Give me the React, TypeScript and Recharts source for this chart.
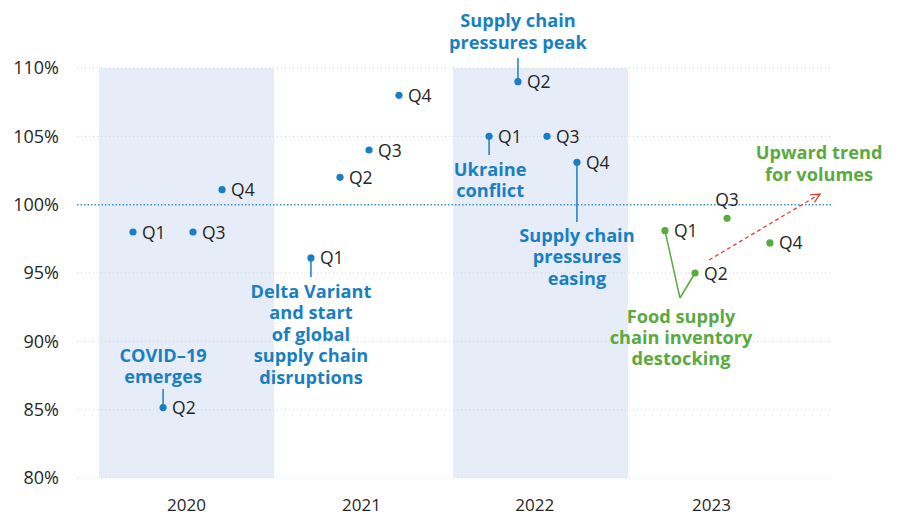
import {
  ComposedChart,
  ReferenceArea,
  ReferenceDot,
  ReferenceLine,
  Scatter,
  XAxis,
  YAxis,
} from "recharts";

// quarterly volume index
const years = ["2020", "2021", "2022", "2023"];
const quarters = ["Q1", "Q2", "Q3", "Q4"];
const yearTicks = [0.5, 1.5, 2.49, 3.5];

const quarterX = [
  [0.194, 0.366, 0.537, 0.703],
  [1.211, 1.377, 1.543, 1.714],
  [2.229, 2.394, 2.56, 2.731],
  [3.234, 3.406, 3.589, 3.834],
];

const volume = [
  [98.0, 85.15, 98.0, 101.1],
  [96.1, 102.0, 104.0, 108.0],
  [105.0, 109.0, 105.0, 103.1],
  [98.1, 95.0, 99.0, 97.2],
];

const yTicks = [80, 85, 90, 95, 100, 105, 110];
const shadedRanges = [
  [0, 1],
  [2.023, 3.023],
];
const labelAboveKeys = ["2023-Q3"];

const BLUE = "#1a7fc2";
const GREEN = "#5aaa3f";
const RED = "#e0412e";
const INK = "#262626";

function buildPoints(yearIdx: number[]) {
  const out: { x: number; y: number; q: string; above: boolean }[] = [];
  yearIdx.forEach((yi) => {
    quarters.forEach((q, qi) => {
      out.push({
        x: quarterX[yi][qi],
        y: volume[yi][qi],
        q,
        above: labelAboveKeys.includes(`${years[yi]}-${q}`),
      });
    });
  });
  return out;
}

const bluePoints = buildPoints([0, 1, 2]);
const greenPoints = buildPoints([3]);

// annotation text blocks: anchor = first baseline, centred
const notes = [
  { x: 0.366, y: 88.49, color: BLUE, lines: ["COVID–19", "emerges"] },
  {
    x: 1.211,
    y: 93.17,
    color: BLUE,
    lines: ["Delta Variant", "and start", "of global", "supply chain", "disruptions"],
  },
  { x: 2.394, y: 112.98, color: BLUE, lines: ["Supply chain", "pressures peak"] },
  { x: 2.235, y: 102.1, color: BLUE, lines: ["Ukraine", "conflict"] },
  { x: 2.731, y: 97.29, color: BLUE, lines: ["Supply chain", "pressures", "easing"] },
  {
    x: 3.326,
    y: 91.37,
    color: GREEN,
    lines: ["Food supply", "chain inventory", "destocking"],
  },
  { x: 4.115, y: 103.32, color: GREEN, lines: ["Upward trend", "for volumes"] },
];

const leaders = [
  { x: 0.366, y1: 86.52, y2: 85.15 },
  { x: 1.211, y1: 96.1, y2: 94.71 },
  { x: 2.394, y1: 110.73, y2: 109.0 },
  { x: 2.229, y1: 105.0, y2: 103.64 },
  { x: 2.731, y1: 103.1, y2: 98.73 },
];

const destockVertex = { x: 3.32, y: 93.17 };
const trendArrow = { x1: 3.486, y1: 95.95, x2: 4.12, y2: 100.78 };

function Dot(props: any) {
  const { cx, cy, payload, fill } = props;
  if (cx == null || cy == null) return null;
  return (
    <g>
      <circle cx={cx} cy={cy} r={3.6} fill={fill} />
      {payload.above ? (
        <text x={cx} y={cy - 12} textAnchor="middle" fontSize={17.5} fill={INK}>
          {payload.q}
        </text>
      ) : (
        <text x={cx + 9} y={cy + 6.5} fontSize={17.5} fill={INK}>
          {payload.q}
        </text>
      )}
    </g>
  );
}

function noteShape(lines: string[], color: string) {
  return (props: any) => (
    <text
      x={props.cx}
      y={props.cy}
      textAnchor="middle"
      fontSize={18.2}
      fontWeight={700}
      fill={color}
    >
      {lines.map((l, i) => (
        <tspan key={i} x={props.cx} dy={i === 0 ? 0 : 21.4}>
          {l}
        </tspan>
      ))}
    </text>
  );
}

function ArrowShape(props: any) {
  const { x1, y1, x2, y2 } = props;
  if (x1 == null) return null;
  const ang = Math.atan2(y2 - y1, x2 - x1);
  const len = 10;
  const a1 = ang + Math.PI - 0.45;
  const a2 = ang + Math.PI + 0.45;
  return (
    <g stroke={RED} strokeWidth={1.3} fill="none">
      <line x1={x1} y1={y1} x2={x2} y2={y2} strokeDasharray="4 3" />
      <polyline
        points={`${x2 + len * Math.cos(a1)},${y2 + len * Math.sin(a1)} ${x2},${y2} ${
          x2 + len * Math.cos(a2)
        },${y2 + len * Math.sin(a2)}`}
      />
    </g>
  );
}

export default function App() {
  return (
    <div
      style={{
        position: "absolute",
        left: 0,
        top: 0,
        width: 900,
        height: 515,
        background: "#fff",
        fontFamily: "'Open Sans', sans-serif",
      }}
    >
      <ComposedChart
        width={900}
        height={515}
        margin={{ top: 68, right: 69, bottom: 0, left: 0 }}
      >
        <XAxis
          type="number"
          dataKey="x"
          domain={[-0.126, 4.183]}
          ticks={yearTicks}
          tickFormatter={(v: number) => years[yearTicks.indexOf(v)] ?? ""}
          axisLine={false}
          tickLine={false}
          tickMargin={15}
          height={37}
          tick={{ fill: INK, fontSize: 17 }}
          allowDataOverflow
        />
        <YAxis
          type="number"
          dataKey="y"
          domain={[80, 110]}
          ticks={yTicks}
          tickFormatter={(v: number) => `${v}%`}
          axisLine={false}
          tickLine={false}
          tickMargin={12}
          width={77}
          tick={{ fill: INK, fontSize: 18 }}
          allowDataOverflow
        />
        {shadedRanges.map(([a, b], i) => (
          <ReferenceArea
            key={i}
            x1={a}
            x2={b}
            y1={80}
            y2={110}
            fill="#e6edf8"
            fillOpacity={1}
            stroke="none"
          />
        ))}
        {yTicks
          .filter((t) => t !== 100)
          .map((t) => (
            <ReferenceLine
              key={t}
              y={t}
              stroke="#c3d2e6"
              strokeDasharray="1 3"
              strokeWidth={1}
            />
          ))}
        <ReferenceLine y={100} stroke="#3b8fd3" strokeDasharray="1.5 2" strokeWidth={1.5} />
        {leaders.map((l, i) => (
          <ReferenceLine
            key={`ld${i}`}
            segment={[
              { x: l.x, y: l.y1 },
              { x: l.x, y: l.y2 },
            ]}
            stroke={BLUE}
            strokeWidth={1.5}
            ifOverflow="visible"
          />
        ))}
        <ReferenceLine
          segment={[
            { x: quarterX[3][0], y: volume[3][0] },
            { x: destockVertex.x, y: destockVertex.y },
          ]}
          stroke={GREEN}
          strokeWidth={1.5}
        />
        <ReferenceLine
          segment={[
            { x: destockVertex.x, y: destockVertex.y },
            { x: quarterX[3][1], y: volume[3][1] },
          ]}
          stroke={GREEN}
          strokeWidth={1.5}
        />
        <ReferenceLine
          segment={[
            { x: trendArrow.x1, y: trendArrow.y1 },
            { x: trendArrow.x2, y: trendArrow.y2 },
          ]}
          shape={ArrowShape}
          ifOverflow="visible"
        />
        <Scatter
          data={bluePoints}
          fill={BLUE}
          shape={Dot}
          isAnimationActive={false}
        />
        <Scatter
          data={greenPoints}
          fill={GREEN}
          shape={Dot}
          isAnimationActive={false}
        />
        {notes.map((n, i) => (
          <ReferenceDot
            key={`n${i}`}
            x={n.x}
            y={n.y}
            r={0}
            ifOverflow="visible"
            shape={noteShape(n.lines, n.color)}
          />
        ))}
      </ComposedChart>
    </div>
  );
}
